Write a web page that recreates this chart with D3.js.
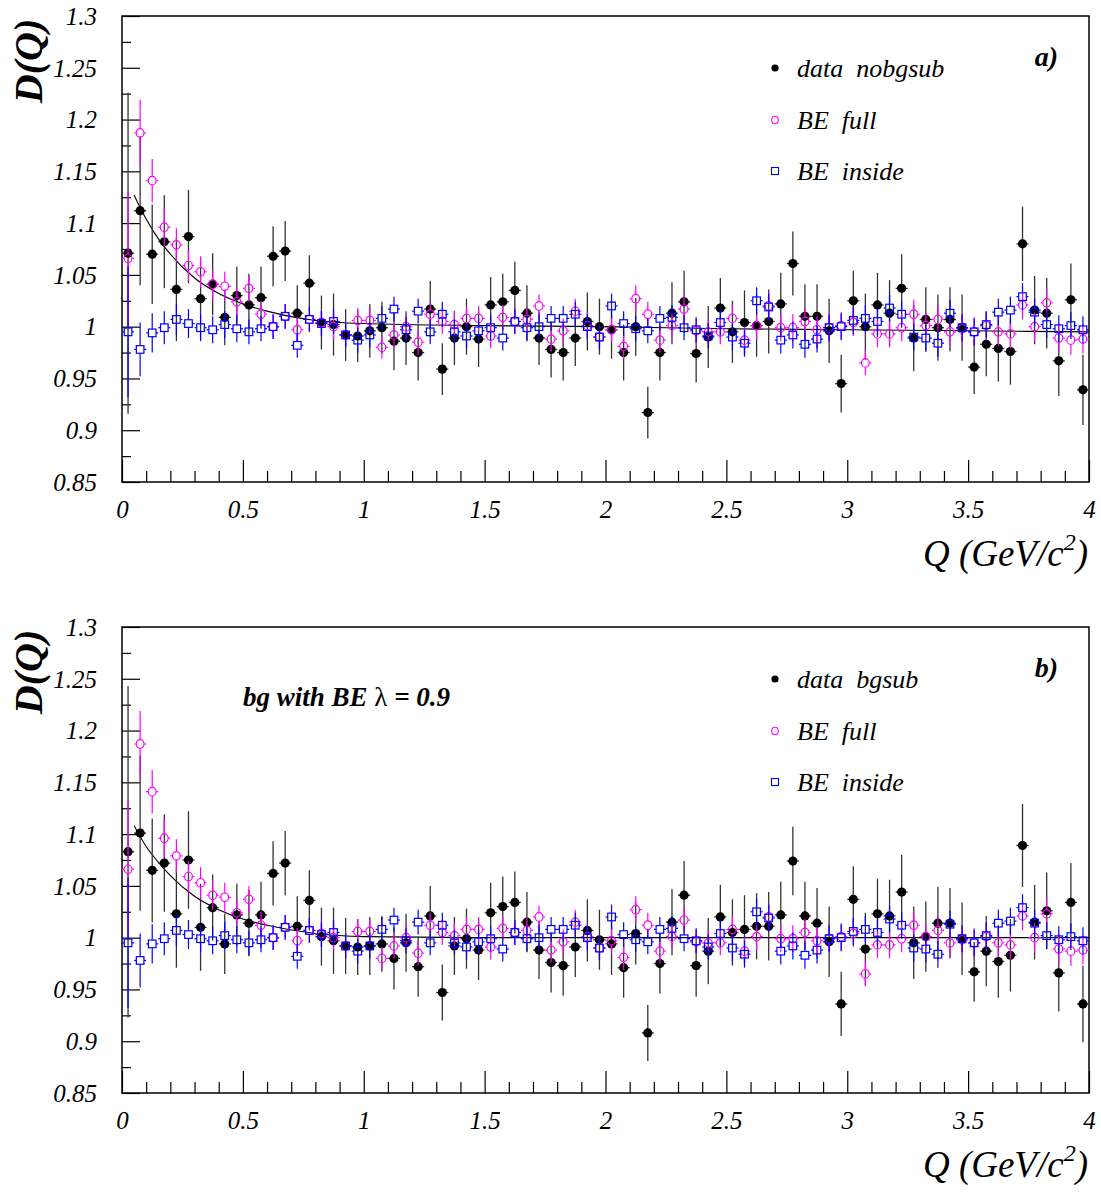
<!DOCTYPE html>
<html><head><meta charset="utf-8">
<script src="https://cdn.jsdelivr.net/npm/d3@7"></script>
<style>
body{margin:0;background:#fff}
text{font-family:"Liberation Serif","Times New Roman",serif}
</style>
</head><body>
<svg id="c" width="1101" height="1192"></svg>
<script>
// ---------------- DATA ----------------
const qCenters = [0.025,0.075,0.125,0.175,0.225,0.275,0.325,0.375,0.425,0.475,
0.525,0.575,0.625,0.675,0.725,0.775,0.825,0.875,0.925,0.975,
1.025,1.075,1.125,1.175,1.225,1.275,1.325,1.375,1.425,1.475,
1.525,1.575,1.625,1.675,1.725,1.775,1.825,1.875,1.925,1.975,
2.025,2.075,2.125,2.175,2.225,2.275,2.325,2.375,2.425,2.475,
2.525,2.575,2.625,2.675,2.725,2.775,2.825,2.875,2.925,2.975,
3.025,3.075,3.125,3.175,3.225,3.275,3.325,3.375,3.425,3.475,
3.525,3.575,3.625,3.675,3.725,3.775,3.825,3.875,3.925,3.975];
const binHalf = 0.025;

// panel a: data nobgsub
const dataNobgsub = [1.071,1.112,1.070,1.082,1.036,1.087,1.027,1.041,1.009,1.030,
1.021,1.028,1.068,1.073,1.013,1.042,1.004,1.002,0.992,0.991,
0.996,0.999,0.986,0.989,0.975,1.017,0.959,0.989,1.000,0.988,
1.021,1.024,1.035,1.013,0.989,0.978,0.975,0.989,1.005,1.000,
0.997,0.975,1.000,0.917,0.975,1.013,1.024,0.974,0.990,1.018,
0.995,1.004,1.001,1.005,1.022,1.061,1.010,1.010,0.996,0.945,
1.025,1.000,1.021,1.013,1.037,0.989,1.007,0.999,1.007,0.999,
0.961,0.983,0.979,0.976,1.080,1.016,1.013,0.967,1.026,0.939];
const errNobgsub = [0.155,0.072,0.048,0.045,0.050,0.045,0.040,0.030,0.027,0.028,
0.030,0.030,0.029,0.029,0.027,0.027,0.026,0.030,0.025,0.025,
0.026,0.025,0.028,0.026,0.027,0.027,0.025,0.026,0.027,0.027,
0.027,0.027,0.028,0.027,0.026,0.027,0.027,0.027,0.028,0.027,
0.028,0.027,0.028,0.025,0.027,0.030,0.030,0.028,0.030,0.029,
0.030,0.031,0.030,0.031,0.030,0.031,0.031,0.031,0.031,0.028,
0.029,0.032,0.031,0.032,0.033,0.032,0.031,0.032,0.031,0.032,
0.026,0.031,0.032,0.032,0.036,0.033,0.034,0.034,0.035,0.034];

// panel b: data bgsub
const dataBgsub = [1.083,1.101,1.065,1.072,1.023,1.075,1.010,1.029,0.994,1.022,
1.014,1.022,1.062,1.072,1.011,1.036,1.001,0.997,0.992,0.991,
0.992,0.994,0.980,0.995,0.972,1.021,0.947,0.992,0.999,0.988,
1.024,1.030,1.034,1.015,0.988,0.976,0.973,0.991,1.007,0.998,
0.994,0.971,1.004,0.908,0.975,1.015,1.041,0.973,0.987,1.020,
1.005,1.008,1.011,1.011,1.022,1.074,1.021,1.014,0.996,0.936,
1.037,0.989,1.023,1.021,1.044,0.995,1.001,1.014,1.014,0.999,
0.967,0.987,0.977,0.983,1.089,1.015,1.026,0.966,1.034,0.936];
const errBgsub = [0.160,0.075,0.050,0.047,0.052,0.047,0.042,0.032,0.029,0.030,
0.032,0.032,0.031,0.031,0.029,0.029,0.028,0.032,0.027,0.027,
0.028,0.027,0.030,0.028,0.029,0.029,0.027,0.028,0.029,0.029,
0.029,0.029,0.030,0.029,0.028,0.029,0.029,0.029,0.030,0.029,
0.030,0.029,0.030,0.027,0.029,0.032,0.033,0.030,0.032,0.031,
0.032,0.033,0.032,0.033,0.032,0.033,0.033,0.034,0.034,0.031,
0.032,0.035,0.034,0.035,0.036,0.035,0.034,0.035,0.034,0.035,
0.029,0.034,0.035,0.035,0.040,0.036,0.037,0.037,0.038,0.037];

// BE full (same in both panels)
const beFull = [1.066,1.187,1.141,1.096,1.079,1.059,1.053,1.041,1.039,1.024,
1.037,1.012,1.000,1.010,0.997,1.007,1.004,1.000,0.992,1.006,
1.006,0.980,0.992,1.000,0.985,1.012,1.005,1.002,1.008,1.008,
0.991,1.009,1.005,1.007,1.020,0.988,0.996,1.015,1.001,0.990,
0.997,0.981,1.027,1.012,0.987,1.001,1.017,0.996,0.995,0.995,
1.008,0.987,1.001,1.020,0.999,0.999,1.005,0.997,0.999,1.001,
1.004,0.965,0.993,0.993,0.999,1.012,1.001,1.007,0.995,0.998,
0.995,1.001,0.995,0.993,1.021,1.000,1.023,0.989,0.987,0.988];
const errFull = [0.065,0.032,0.021,0.018,0.016,0.015,0.015,0.014,0.014,0.013,
0.013,0.013,0.012,0.012,0.012,0.012,0.012,0.012,0.012,0.012,
0.012,0.011,0.012,0.012,0.012,0.012,0.012,0.012,0.012,0.012,
0.012,0.012,0.012,0.012,0.011,0.012,0.012,0.012,0.012,0.012,
0.012,0.012,0.013,0.012,0.012,0.012,0.013,0.012,0.012,0.012,
0.013,0.013,0.013,0.013,0.013,0.013,0.013,0.013,0.013,0.013,
0.013,0.012,0.013,0.013,0.013,0.014,0.013,0.014,0.014,0.014,
0.014,0.014,0.014,0.014,0.014,0.014,0.015,0.014,0.014,0.014];

// BE inside (same in both panels)
const beInside = [0.995,0.978,0.994,0.999,1.007,1.003,0.999,0.997,1.002,0.998,
0.995,0.998,1.000,1.010,0.982,1.007,1.003,1.005,0.992,0.987,
0.992,1.008,1.017,0.997,1.015,0.995,1.012,0.995,0.991,0.996,
0.999,0.989,1.005,0.999,1.000,1.008,1.008,1.012,1.000,0.990,
1.020,1.003,0.998,0.996,1.008,1.009,0.999,0.997,0.991,1.004,
0.990,0.984,1.025,1.019,0.987,0.992,0.983,0.988,0.999,1.000,
1.006,1.008,1.005,1.018,1.012,0.990,0.989,0.984,1.013,0.999,
0.995,1.002,1.014,1.016,1.029,1.014,1.002,0.998,1.001,0.997];
const errInside = [0.063,0.026,0.019,0.016,0.015,0.014,0.013,0.013,0.013,0.013,
0.012,0.012,0.012,0.012,0.012,0.012,0.012,0.012,0.012,0.012,
0.012,0.012,0.012,0.012,0.012,0.012,0.012,0.012,0.012,0.012,
0.012,0.012,0.012,0.012,0.012,0.012,0.012,0.012,0.012,0.012,
0.012,0.012,0.012,0.012,0.012,0.012,0.012,0.012,0.012,0.012,
0.013,0.013,0.013,0.013,0.013,0.013,0.013,0.013,0.013,0.013,
0.013,0.013,0.013,0.013,0.013,0.013,0.013,0.013,0.013,0.013,
0.013,0.013,0.013,0.013,0.013,0.013,0.013,0.013,0.013,0.013];

// fit curves
const fitQ = [0.05,0.1,0.15,0.2,0.3,0.4,0.5,0.6,0.8,1.0,1.5,2.0,2.5,3.0,3.5,4.0];
const fitA = [1.127,1.104,1.085,1.070,1.047,1.032,1.022,1.015,1.006,1.003,1.001,1.000,0.998,0.997,0.996,0.995];
const fitB = [1.108,1.088,1.073,1.060,1.040,1.027,1.018,1.012,1.004,1.001,1.000,1.000,1.000,1.000,1.000,1.000];

// ticks
const xMajor = [0,0.5,1,1.5,2,2.5,3,3.5,4];
const xTickLabels = ["0","0.5","1","1.5","2","2.5","3","3.5","4"];
const xMinor = [0.1,0.2,0.3,0.4,0.6,0.7,0.8,0.9,1.1,1.2,1.3,1.4,1.6,1.7,1.8,1.9,2.1,2.2,2.3,2.4,2.6,2.7,2.8,2.9,3.1,3.2,3.3,3.4,3.6,3.7,3.8,3.9];
const yMajor = [0.85,0.9,0.95,1,1.05,1.1,1.15,1.2,1.25,1.3];
const yTickLabels = ["0.85","0.9","0.95","1","1.05","1.1","1.15","1.2","1.25","1.3"];
const yMinor = [0.875,0.925,0.975,1.025,1.075,1.125,1.175,1.225,1.275];

const legendA = ["data  nobgsub","BE  full","BE  inside"];
const legendB = ["data  bgsub","BE  full","BE  inside"];

// ---------------- DRAW ----------------
const svg = d3.select("#c");
const X0 = 122, X1 = 1089;

const panels = [
  {top:16, bottom:482, data:dataNobgsub, err:errNobgsub, fit:fitA, legend:legendA, tag:"a)", note:null},
  {top:627, bottom:1093, data:dataBgsub, err:errBgsub, fit:fitB, legend:legendB, tag:"b)", note:true}
];

const BLACK = "#000", MAG = "#ff00ff", BLUE = "#0000ff";

function errorBars(g, x, y, vals, errs, color, gap, width) {
  const segs = [];
  vals.forEach((v,i)=>{
    const cx = x(qCenters[i]), cy = y(v);
    const yt = y(v+errs[i]), yb = y(v-errs[i]);
    const xl = x(qCenters[i]-binHalf), xr = x(qCenters[i]+binHalf);
    if (cy-gap > yt) segs.push([cx,yt,cx,cy-gap]);
    if (yb > cy+gap) segs.push([cx,cy+gap,cx,yb]);
    segs.push([xl,cy,cx-gap,cy]);
    segs.push([cx+gap,cy,xr,cy]);
  });
  g.append("g").selectAll("line").data(segs).join("line")
    .attr("x1",d=>d[0]).attr("y1",d=>d[1]).attr("x2",d=>d[2]).attr("y2",d=>d[3])
    .attr("stroke",color).attr("stroke-width",width);
}

panels.forEach(p=>{
  const x = d3.scaleLinear().domain([0,4]).range([X0,X1]);
  const y = d3.scaleLinear().domain([0.85,1.3]).range([p.bottom,p.top]);
  const g = svg.append("g");

  // axes
  const ya = g.append("g").attr("transform",`translate(${X0},0)`)
    .call(d3.axisLeft(y).tickValues(yMajor).tickSize(-18).tickPadding(25)
      .tickFormat((d,i)=>yTickLabels[i]));
  g.append("g").attr("transform",`translate(${X0},0)`)
    .call(d3.axisLeft(y).tickValues(yMinor).tickSize(-9).tickFormat(""));
  const xa = g.append("g").attr("transform",`translate(0,${p.bottom})`)
    .call(d3.axisBottom(x).tickValues(xMajor).tickSize(-22).tickFormat((d,i)=>xTickLabels[i]));
  g.append("g").attr("transform",`translate(0,${p.bottom})`)
    .call(d3.axisBottom(x).tickValues(xMinor).tickSize(-11).tickFormat(""));
  g.selectAll(".domain").remove();
  g.selectAll(".tick line").attr("stroke","#000").attr("stroke-width",1.2);
  ya.selectAll("text").attr("font-size",25).attr("font-style","italic")
    .attr("font-family","Liberation Serif").attr("fill","#000").attr("x",-25).attr("dy","0.33em");
  xa.selectAll("text").attr("font-size",25).attr("font-style","italic")
    .attr("font-family","Liberation Serif").attr("fill","#000").attr("y",36).attr("dy",0);

  // frame
  g.append("rect").attr("x",X0).attr("y",p.top).attr("width",X1-X0).attr("height",p.bottom-p.top)
    .attr("fill","none").attr("stroke","#000").attr("stroke-width",1.5);

  // fit curve
  g.append("path").datum(fitQ.map((q,i)=>[q,p.fit[i]]))
    .attr("d", d3.line().x(d=>x(d[0])).y(d=>y(d[1])).curve(d3.curveMonotoneX))
    .attr("fill","none").attr("stroke","#000").attr("stroke-width",1.1);

  // data (black filled circles)
  errorBars(g, x, y, p.data, p.err, "#333", 0, 1.3);
  g.append("g").selectAll("circle").data(p.data).join("circle")
    .attr("cx",(d,i)=>x(qCenters[i])).attr("cy",d=>y(d)).attr("r",4.6).attr("fill",BLACK);

  // BE full (magenta open circles)
  errorBars(g, x, y, beFull, errFull, MAG, 4.3, 1.2);
  g.append("g").selectAll("ellipse").data(beFull).join("ellipse")
    .attr("cx",(d,i)=>x(qCenters[i])).attr("cy",d=>y(d)).attr("rx",3.9).attr("ry",4.3)
    .attr("fill","none").attr("stroke",MAG).attr("stroke-width",1.2);

  // BE inside (blue open squares)
  errorBars(g, x, y, beInside, errInside, BLUE, 3.8, 1.2);
  g.append("g").selectAll("rect.sq").data(beInside).join("rect").attr("class","sq")
    .attr("x",(d,i)=>x(qCenters[i])-3.8).attr("y",d=>y(d)-3.8).attr("width",7.6).attr("height",7.6)
    .attr("fill","none").attr("stroke",BLUE).attr("stroke-width",1.2);

  // legend
  const lg = g.append("g");
  const ly = [p.top+52, p.top+104, p.top+155];
  lg.append("circle").attr("cx",775).attr("cy",ly[0]).attr("r",3.6).attr("fill",BLACK);
  lg.append("ellipse").attr("cx",775).attr("cy",ly[1]).attr("rx",3.3).attr("ry",3.7)
    .attr("fill","none").attr("stroke",MAG).attr("stroke-width",1.1);
  lg.append("rect").attr("x",771.5).attr("y",ly[2]-3.5).attr("width",7).attr("height",7)
    .attr("fill","none").attr("stroke",BLUE).attr("stroke-width",1.1);
  lg.selectAll("text").data(p.legend).join("text")
    .attr("x",797).attr("y",(d,i)=>ly[i]+9)
    .attr("font-size",26).attr("font-style","italic").attr("fill","#000")
    .attr("xml:space","preserve").style("white-space","pre").text(d=>d);

  // panel tag
  g.append("text").attr("x",1058).attr("y",p.top+50).attr("text-anchor","end")
    .attr("font-size",28).attr("font-style","italic").attr("font-weight","bold").text(p.tag);

  // axis titles
  const yt = g.append("text").attr("transform",`translate(42,${p.top+45}) rotate(-90)`)
    .attr("text-anchor","middle").attr("font-size",40).attr("font-style","italic").attr("font-weight","bold");
  yt.text("D(Q)");

  const xt = g.append("text").attr("x",1088).attr("y",p.bottom+84).attr("text-anchor","end")
    .attr("font-size",37).attr("font-style","italic");
  xt.append("tspan").text("Q (GeV/c");
  xt.append("tspan").attr("dy",-16).attr("font-size",24).text("2");
  xt.append("tspan").attr("dy",16).text(")");

  if (p.note) {
    const nt = g.append("text").attr("x",243).attr("y",p.top+79)
      .attr("font-size",27).attr("font-style","italic").attr("font-weight","bold");
    nt.append("tspan").text("bg with BE ");
    nt.append("tspan").attr("font-style","normal").attr("font-weight","normal").text("λ");
    nt.append("tspan").text(" = 0.9");
  }
});
</script>
</body></html>
